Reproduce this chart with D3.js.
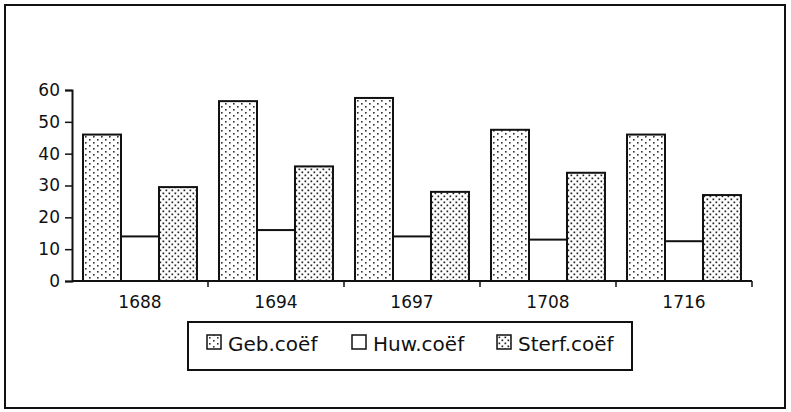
<!DOCTYPE html>
<html>
<head>
<meta charset="utf-8">
<script src="https://cdn.jsdelivr.net/npm/d3@7"></script>
<style>
  body { margin: 0; background: #fff; }
  svg text { font-family: "DejaVu Sans", Verdana, sans-serif; fill: #111; }
</style>
</head>
<body>
<svg id="chart" width="791" height="412"></svg>
<script>
// data
var years = ["1688", "1694", "1697", "1708", "1716"];
var series = ["Geb.coëf", "Huw.coëf", "Sterf.coëf"];
var geb = [46, 56.5, 57.5, 47.5, 46];
var huw = [14, 16, 14, 13, 12.5];
var sterf = [29.5, 36, 28, 34, 27];
var yTicks = [0, 10, 20, 30, 40, 50, 60];

var svg = d3.select("#chart"),
    width = +svg.attr("width"),
    height = +svg.attr("height");

// fill patterns
var defs = svg.append("defs");
var p1 = defs.append("pattern").attr("id", "pat-geb")
    .attr("patternUnits", "userSpaceOnUse").attr("width", 8).attr("height", 6);
p1.append("rect").attr("width", 8).attr("height", 6).attr("fill", "#fff");
p1.append("rect").attr("x", 1).attr("y", 1).attr("width", 1.6).attr("height", 1.6).attr("fill", "#333");
p1.append("rect").attr("x", 5).attr("y", 4).attr("width", 1.6).attr("height", 1.6).attr("fill", "#333");

var p3 = defs.append("pattern").attr("id", "pat-sterf")
    .attr("patternUnits", "userSpaceOnUse").attr("width", 6).attr("height", 6);
p3.append("rect").attr("width", 6).attr("height", 6).attr("fill", "#fff");
p3.append("rect").attr("x", 0.5).attr("y", 0.5).attr("width", 1.7).attr("height", 1.7).attr("fill", "#222");
p3.append("rect").attr("x", 3.5).attr("y", 3.5).attr("width", 1.7).attr("height", 1.7).attr("fill", "#222");

var fills = ["url(#pat-geb)", "#fff", "url(#pat-sterf)"];

// outer frame
svg.append("rect")
    .attr("x", 5).attr("y", 5).attr("width", 780).attr("height", 403)
    .attr("fill", "none").attr("stroke", "#111").attr("stroke-width", 2);

var x = d3.scaleBand()
    .domain(years)
    .range([72, 752])
    .paddingInner(0).paddingOuter(0);

var inner = d3.scaleBand()
    .domain(series)
    .range([0, x.bandwidth()])
    .paddingInner(0).paddingOuter(0.29);

var y = d3.scaleLinear()
    .domain([0, 60])
    .range([281, 90]);

var rows = years.map(function (yr, i) {
    return { year: yr, values: [geb[i], huw[i], sterf[i]] };
});

// bars
var groups = svg.selectAll(".year-group")
    .data(rows)
    .enter()
    .append("g")
    .attr("class", "year-group")
    .attr("transform", function (d) { return "translate(" + x(d.year) + ",0)"; });

groups.selectAll("rect")
    .data(function (d) { return d.values.map(function (v, j) { return { key: series[j], value: v, fill: fills[j] }; }); })
    .enter()
    .append("rect")
    .attr("x", function (d) { return inner(d.key); })
    .attr("width", inner.bandwidth())
    .attr("y", function (d) { return y(d.value); })
    .attr("height", function (d) { return y(0) - y(d.value); })
    .attr("fill", function (d) { return d.fill; })
    .attr("stroke", "#111")
    .attr("stroke-width", 2);

// y axis
var yAxis = svg.append("g")
    .attr("transform", "translate(72,0)")
    .call(d3.axisLeft(y).tickValues(yTicks).tickSize(7).tickPadding(5));
yAxis.select(".domain").attr("stroke", "#111").attr("stroke-width", 2);
yAxis.selectAll(".tick line").attr("stroke", "#111").attr("stroke-width", 1.5);
yAxis.selectAll("text")
    .attr("font-size", null)
    .style("font-size", "17px")
    .style("font-family", "'DejaVu Sans', Verdana, sans-serif")
    .attr("fill", "#111");

// x axis: ticks at band boundaries, labels centred
var xAxis = svg.append("g").attr("transform", "translate(0,281)");
xAxis.append("line")
    .attr("x1", 72).attr("x2", 752)
    .attr("stroke", "#111").attr("stroke-width", 2);
var bounds = years.slice(1).map(function (d) { return x(d); }).concat([x.range()[1]]);
xAxis.selectAll(".xtick")
    .data(bounds)
    .enter()
    .append("line")
    .attr("x1", function (d) { return d; })
    .attr("x2", function (d) { return d; })
    .attr("y1", 0).attr("y2", 6)
    .attr("stroke", "#111").attr("stroke-width", 1.5);
xAxis.selectAll(".xlabel")
    .data(years)
    .enter()
    .append("text")
    .attr("x", function (d) { return x(d) + x.bandwidth() / 2; })
    .attr("y", 27)
    .attr("text-anchor", "middle")
    .style("font-size", "17px")
    .text(function (d) { return d; });

// legend
var legend = svg.append("g");
legend.append("rect")
    .attr("x", 188).attr("y", 322).attr("width", 444).attr("height", 48)
    .attr("fill", "#fff").attr("stroke", "#111").attr("stroke-width", 2);
var legendX = [207, 352, 497];
series.forEach(function (s, j) {
    legend.append("rect")
        .attr("x", legendX[j]).attr("y", 335).attr("width", 14).attr("height", 14)
        .attr("fill", fills[j]).attr("stroke", "#111").attr("stroke-width", 1.5);
    legend.append("text")
        .attr("x", legendX[j] + 21).attr("y", 351)
        .style("font-size", "20px")
        .text(s);
});
</script>
</body>
</html>
